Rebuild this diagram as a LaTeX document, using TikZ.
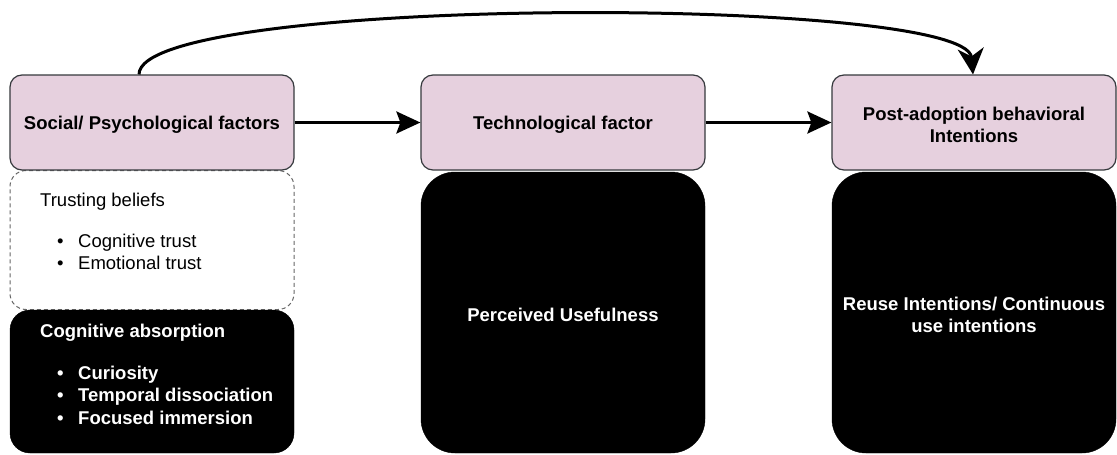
\documentclass[tikz,border=0pt]{standalone}
\usepackage{fontspec}
\setmainfont{Liberation Sans}
\usetikzlibrary{arrows.meta}
\definecolor{pinkfill}{HTML}{E6D0DE}
\definecolor{edgegray}{HTML}{36393D}
\tikzset{
  pinkbox/.style={draw=edgegray, line width=1.2pt, fill=pinkfill, rounded corners=12pt,
    minimum width=284pt, minimum height=95pt, inner sep=0pt},
  dashbox/.style={draw=gray!80!black, dashed, dash pattern=on 4pt off 3pt, line width=1pt, fill=white,
    rounded corners=16pt, minimum width=284pt, minimum height=139pt, inner sep=0pt},
  blackbox/.style={draw=black, fill=black, minimum width=284pt, inner sep=0pt},
  boxlabel/.style={inner sep=0pt, align=center, yshift=-2.5pt,
    font=\fontsize{18.5}{22}\selectfont\bfseries},
  whitelabel/.style={boxlabel, text=white},
  plaintext/.style={anchor=west, inner sep=0pt, font=\fontsize{18.5}{21}\selectfont},
  whitetext/.style={anchor=west, inner sep=0pt, text=white, font=\fontsize{18.5}{21.5}\selectfont\bfseries},
  conn/.style={line width=3pt, -{Stealth[length=24pt, width=22pt, inset=4pt]}},
  curveconn/.style={line width=3pt, -{Stealth[length=26pt, width=26pt, inset=8pt]}}
}
\begin{document}
\begin{tikzpicture}[x=1pt, y=-1pt]
\useasboundingbox[fill=white] (0,0) rectangle (1117,455);
% left column
\node[dashbox] (trust) at (152,240) {};
\node[blackbox, rounded corners=20pt, minimum height=143pt] (absorb) at (152,381.5) {};
\node[pinkbox, label={[boxlabel]center:Social/ Psychological factors}] (soc) at (152,122.5) {};
\node[plaintext] (tbt) at (40,201.7) {Trusting beliefs};
\node[plaintext] (tb1) at (57,242.7) {\makebox[21pt][l]{\textbullet}Cognitive trust};
\node[plaintext] (tb2) at (57,263) {\makebox[21pt][l]{\textbullet}Emotional trust};
\node[whitetext] (cat) at (40,333) {Cognitive absorption};
\node[whitetext] (ca1) at (57,375) {\makebox[21pt][l]{\textbullet}Curiosity};
\node[whitetext] (ca2) at (57,396.7) {\makebox[21pt][l]{\textbullet}Temporal dissociation};
\node[whitetext] (ca3) at (57,418) {\makebox[21pt][l]{\textbullet}Focused immersion};
% middle column
\node[blackbox, rounded corners=34pt, minimum height=281pt,
      label={[whitelabel]center:Perceived Usefulness}] (pu) at (563,312.5) {};
\node[pinkbox, label={[boxlabel]center:Technological factor}] (tech) at (563,122.5) {};
% right column
\node[blackbox, rounded corners=34pt, minimum height=281pt,
      label={[whitelabel]center:Reuse Intentions/ Continuous\\use intentions}] (reuse) at (974,312.5) {};
\node[pinkbox, label={[boxlabel]center:Post-adoption behavioral\\Intentions}] (post) at (974,122.5) {};
% connectors
\draw[conn] (soc.east) -- (tech.west);
\draw[conn] (tech.east) -- (post.west);
\draw[curveconn] (soc.north -| 139,0) .. controls (139,-5) and (966,-5) .. (post.north -| 973,0);
\end{tikzpicture}
\end{document}
